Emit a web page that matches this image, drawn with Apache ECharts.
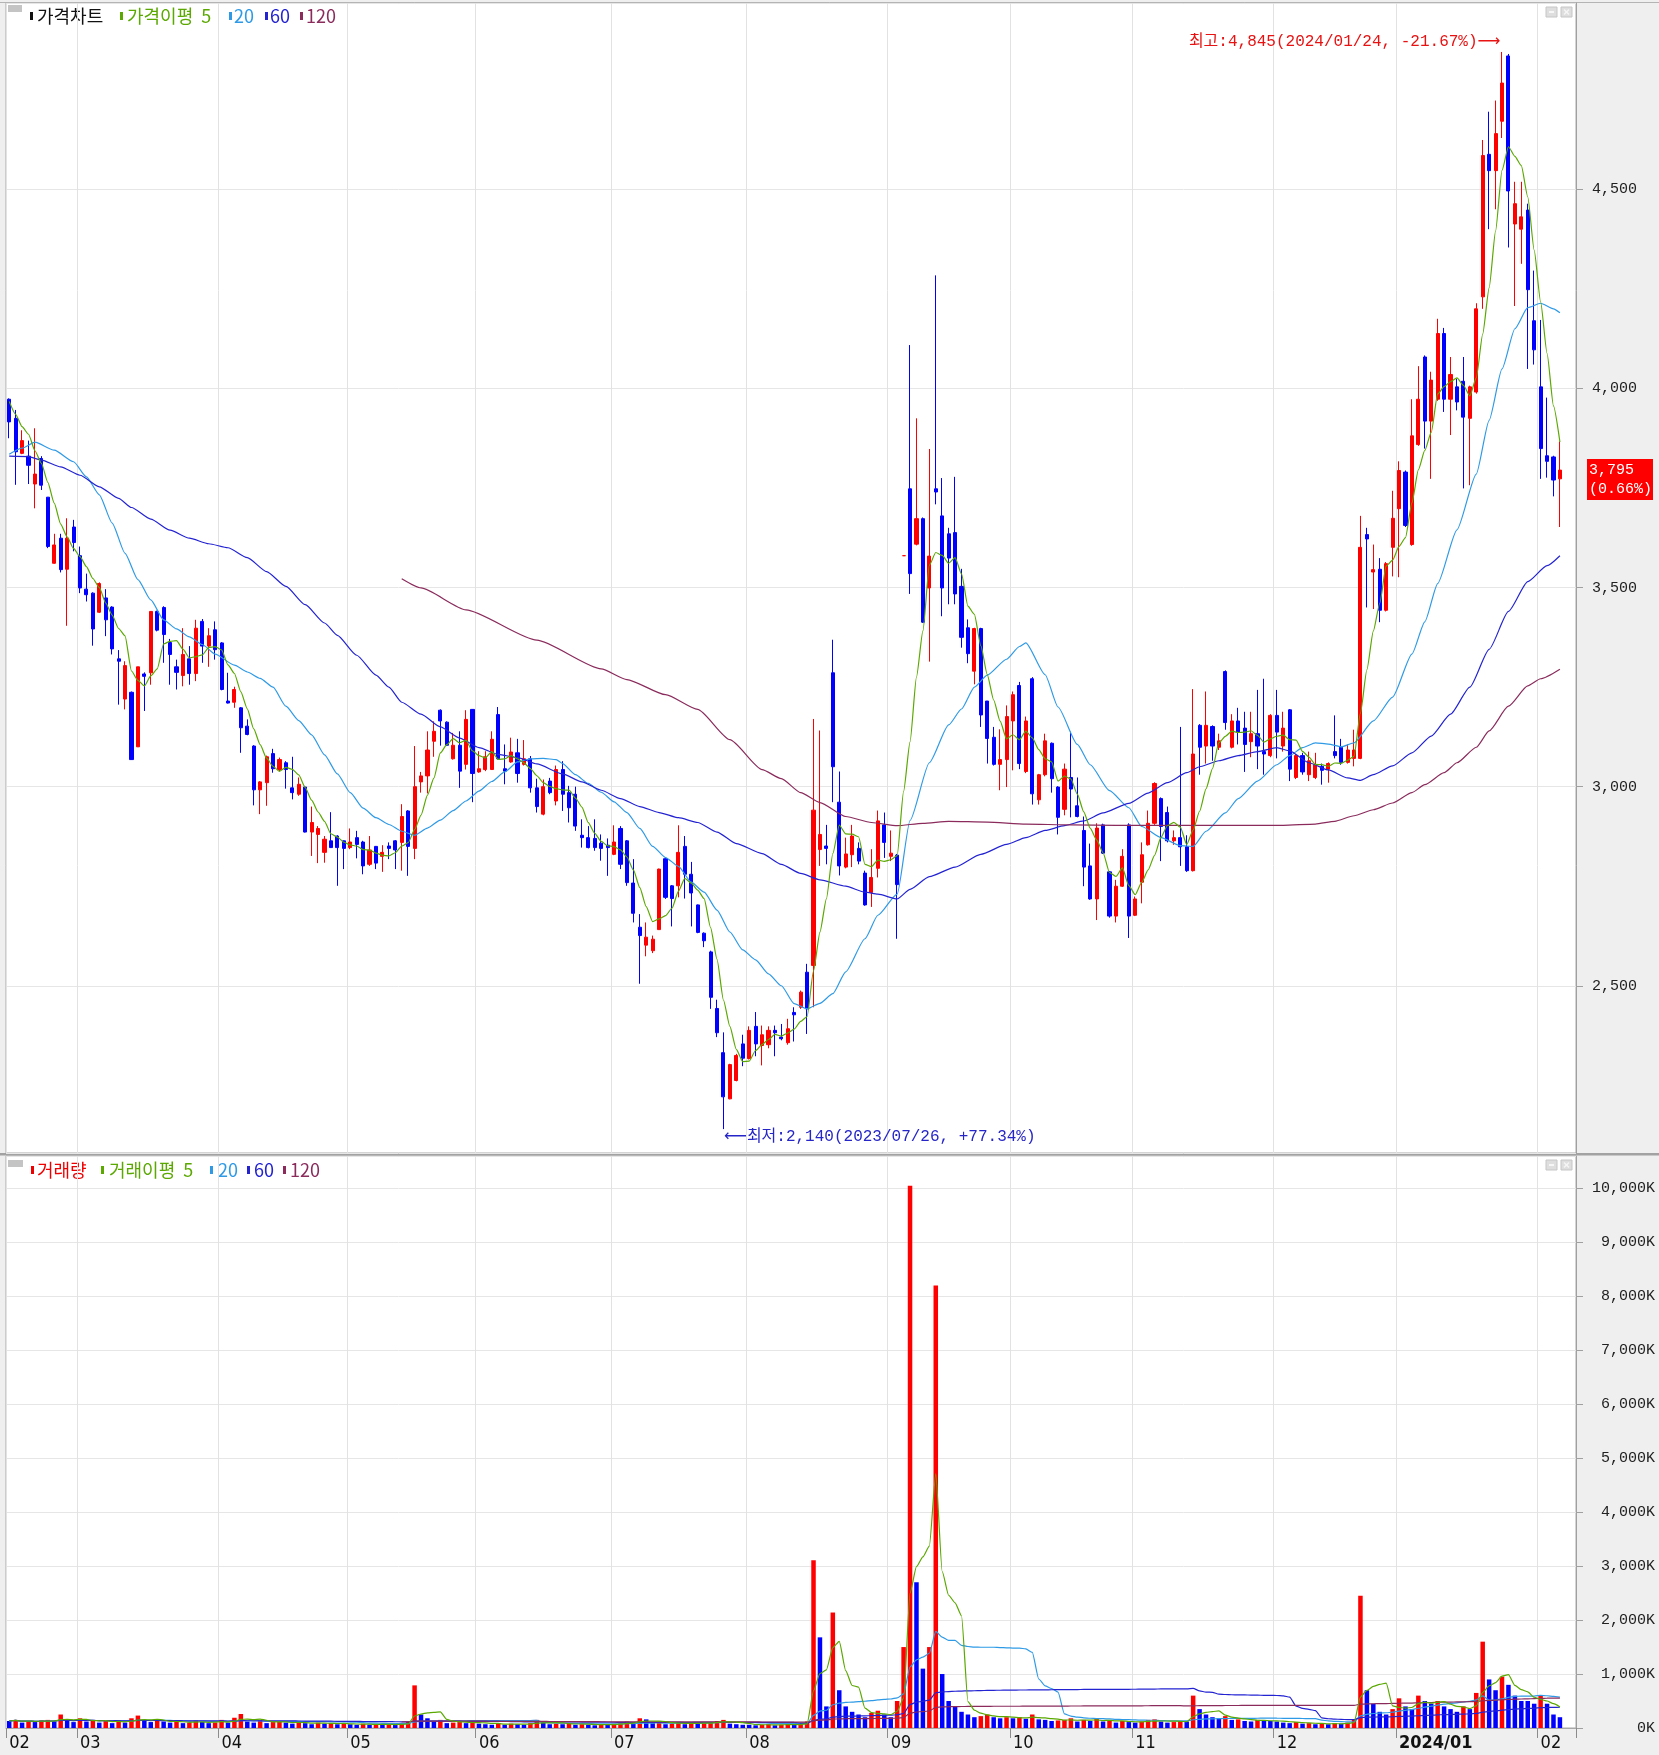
<!DOCTYPE html>
<html lang="ko">
<head>
<meta charset="utf-8">
<title>가격차트</title>
<script src="https://cdn.jsdelivr.net/npm/echarts@6/dist/echarts.min.js"></script>
<style>
html,body{margin:0;padding:0;background:#efefef;}
#chart{width:1659px;height:1755px;}
</style>
</head>
<body>
<div id="chart"></div>
<script>
// ---- trading calendar (month -> trading days) ----
const months = ['2023/02','2023/03','2023/04','2023/05','2023/06','2023/07','2023/08','2023/09','2023/10','2023/11','2023/12','2024/01','2024/02'];
const monthDays = [
  [14,15,16,17,20,21,22,23,24,27,28],
  [2,3,6,7,8,9,10,13,14,15,16,17,20,21,22,23,24,27,28,29,30,31],
  [3,4,5,6,7,10,11,12,13,14,17,18,19,20,21,24,25,26,27,28],
  [2,3,4,8,9,10,11,12,15,16,17,18,19,22,23,24,25,26,30,31],
  [1,2,5,7,8,9,12,13,14,15,16,19,20,21,22,23,26,27,28,29,30],
  [3,4,5,6,7,10,11,12,13,14,17,18,19,20,21,24,25,26,27,28,31],
  [1,2,3,4,7,8,9,10,11,14,16,17,18,21,22,23,24,25,28,29,30,31],
  [1,4,5,6,7,8,11,12,13,14,15,18,19,20,21,22,25,26,27],
  [4,5,6,10,11,12,13,16,17,18,19,20,23,24,25,26,27,30,31],
  [1,2,3,6,7,8,9,10,13,14,15,16,17,20,21,22,23,24,27,28,29,30],
  [1,4,5,6,7,8,11,12,13,14,15,18,19,20,21,22,26,27,28],
  [2,3,4,5,8,9,10,11,12,15,16,17,18,19,22,23,24,25,26,29,30,31],
  [1,2,5,6]
];

// ---- daily prices (won) ----
const opens = [
  3973,3925,3837,3830,3760,3824,3727,3561,3624,3546,3652,
  3580,3496,3486,3438,3474,3451,3321,3220,3237,3100,3283,3286,3440,3450,3362,3301,3279,3321,3284,3415,3353,3394,
  3361,3215,3212,3198,3152,3102,2992,3010,3083,3043,3060,2997,2981,2999,2886,2880,2835,2864,2876,2864,
  2847,2872,2861,2805,2850,2825,2851,2864,2860,2939,2845,3012,3027,3114,3192,3162,3070,3104,3056,3194,
  3037,3043,3043,3181,3045,3062,3085,3056,3070,2997,2931,3014,2964,3043,2985,2981,2878,2872,2870,2858,2853,
  2830,2895,2864,2758,2647,2602,2588,2641,2819,2751,2751,2850,2780,2703,2632,2585,2443,2332,2216,2262,2354,
  2317,2398,2350,2352,2388,2371,2357,2433,2446,2534,2551,2842,2851,3286,2961,2798,2829,2845,2783,2734,2795,2904,
  2825,2828,3580,3748,3609,3673,3499,3748,3680,3635,3638,3503,3399,3290,3397,3215,3124,3056,3068,
  3165,3254,3038,3271,2967,3030,3109,2999,2943,3023,2952,2890,2801,2718,2904,2786,2675,2750,2904,
  2677,2760,2854,2908,2970,2935,2864,2872,2849,2789,3154,3102,3151,3099,3289,3099,3165,3147,3113,3133,3088,3078,
  3179,3102,3193,3023,3078,3030,3023,3051,3044,3088,3099,3061,3071,3071,3633,3539,3546,3443,3601,
  3698,3790,3608,3859,4079,3918,3973,4138,3973,4004,4018,3925,3991,4230,4588,4547,4671,4835,4413,4400,4448,4170,
  4004,3831,3828,3773
];
const highs = [
  3975,3946,3895,3869,3900,3830,3727,3635,3635,3674,3670,
  3603,3535,3488,3513,3496,3453,3343,3315,3239,3301,3287,3440,3442,3453,3371,3319,3398,3353,3419,3421,3398,3415,
  3363,3286,3251,3200,3169,3104,3014,3078,3095,3073,3064,3075,3023,3002,2950,2901,2876,2936,2878,2865,
  2895,2889,2864,2876,2851,2853,2860,2866,2956,2941,3102,3037,3139,3164,3194,3164,3135,3139,3192,3195,
  3089,3089,3139,3200,3106,3123,3120,3117,3077,3020,3018,3022,3053,3064,3002,3000,2918,2901,2918,2880,2870,
  2903,2901,2866,2818,2680,2659,2626,2794,2821,2753,2903,2876,2811,2704,2634,2588,2465,2383,2304,2329,2377,
  2398,2434,2400,2398,2400,2404,2417,2446,2488,2555,3170,3141,2904,3369,3038,2872,2904,2860,2789,2843,2940,2935,
  2890,2831,3580,4109,3925,3676,3848,4284,3775,3650,3778,3547,3420,3399,3399,3215,3150,3144,3204,
  3239,3263,3176,3275,3032,3133,3111,3001,3058,3138,3023,2925,2857,2908,2907,2788,2766,2843,2908,
  2724,2860,2940,3011,2973,2950,2890,3150,2878,3245,3157,3239,3154,3133,3292,3182,3198,3188,3188,3243,3271,3182,
  3243,3188,3195,3082,3085,3088,3085,3058,3061,3179,3120,3106,3143,3680,3650,3608,3574,3564,3743,
  3817,3794,3973,4056,4083,4042,4175,4152,4079,4024,4079,4007,4214,4624,4695,4723,4845,4840,4519,4519,4464,4296,
  4172,3977,3831,3867
];
const lows = [
  3875,3758,3835,3760,3699,3745,3599,3560,3538,3404,3591,
  3486,3465,3354,3436,3378,3332,3206,3194,3067,3100,3190,3256,3390,3311,3256,3244,3252,3256,3265,3311,3301,3319,
  3242,3209,3198,3085,3129,2953,2931,2952,3035,3039,2995,2968,2977,2885,2826,2808,2809,2846,2751,2793,
  2843,2820,2780,2801,2793,2786,2818,2793,2789,2776,2818,2985,2983,3075,3103,3102,3068,2997,3043,2961,
  3035,3039,3042,3068,3006,3060,3010,3053,2985,2935,2928,2981,2953,2939,2910,2889,2847,2845,2839,2814,2776,
  2828,2793,2751,2659,2505,2574,2582,2641,2718,2649,2722,2719,2649,2632,2597,2442,2371,2140,2215,2260,2298,
  2315,2323,2300,2343,2323,2363,2352,2360,2442,2379,2446,2801,2805,2961,2777,2795,2798,2805,2701,2698,2772,2821,
  2813,2618,3580,3484,3606,3411,3314,3709,3428,3458,3458,3349,3310,3257,3150,3058,3053,2991,2999,
  3041,3044,3034,2955,2955,3026,2985,2880,2928,2923,2923,2750,2716,2665,2831,2671,2659,2748,2620,
  2675,2707,2852,2904,2813,2860,2854,2801,2786,2787,3030,3058,3065,3092,3143,3096,3106,3037,3074,3044,3030,3074,
  3071,3088,3014,3019,3030,3014,3019,3005,3010,3071,3055,3058,3051,3069,3450,3446,3413,3440,3528,
  3526,3652,3605,3856,3849,3773,3969,3941,3883,3945,3749,3757,3987,4200,4400,4450,4629,4354,4207,4313,4049,4060,
  3773,3776,3729,3652
];
const closes = [
  3916,3841,3869,3807,3785,3757,3603,3607,3545,3624,3613,
  3499,3482,3396,3510,3419,3346,3315,3304,3068,3301,3277,3440,3393,3382,3332,3287,3332,3284,3398,3353,3379,3344,
  3244,3210,3244,3148,3131,2992,3012,3075,3045,3068,3043,2985,3006,2886,2910,2895,2868,2847,2847,2845,
  2861,2855,2801,2841,2808,2835,2845,2841,2925,2850,3000,3027,3092,3139,3165,3104,3104,3039,3169,3033,
  3045,3075,3119,3070,3039,3087,3033,3070,2997,2950,3000,2985,3043,2981,2947,2901,2872,2847,2847,2845,2847,
  2861,2805,2759,2682,2626,2622,2617,2793,2722,2719,2835,2780,2733,2634,2613,2471,2382,2221,2302,2325,2318,
  2388,2354,2377,2388,2382,2367,2392,2427,2484,2442,2941,2880,2845,3050,2801,2831,2876,2813,2703,2772,2914,2860,
  2833,2754,3580,3535,3673,3413,3579,3740,3499,3574,3484,3375,3334,3397,3180,3121,3056,3068,3176,
  3231,3058,3165,2982,3030,3115,3020,2923,3044,2994,2925,2798,2718,2896,2833,2675,2750,2825,2675,
  2718,2829,2908,3008,2900,2864,2872,2849,2789,3082,3099,3154,3102,3115,3161,3165,3137,3106,3133,3102,3082,3179,
  3137,3147,3044,3078,3037,3065,3055,3041,3058,3078,3061,3092,3092,3601,3622,3545,3443,3560,3674,
  3794,3656,3881,3973,3918,4021,4138,3973,4035,3966,3928,4004,4200,4585,4547,4640,4767,4496,4464,4431,4248,4097,
  3849,3817,3770,3795
];

// ---- daily volume (thousand shares) ----
const volumes = [
  130,150,100,130,110,140,150,120,250,130,110,
  180,120,150,100,130,90,140,100,180,230,130,110,150,120,100,120,90,100,140,110,90,100,
  150,100,190,260,120,100,150,90,110,120,100,80,110,90,70,100,80,90,70,80,
  70,60,80,60,70,60,70,60,80,110,790,250,180,120,150,90,100,110,90,120,
  80,70,60,90,60,80,70,60,90,150,100,70,80,70,90,60,70,60,50,70,60,
  80,90,120,100,180,160,90,100,70,80,110,70,90,80,100,110,130,150,80,70,60,
  60,50,60,70,50,60,70,60,80,120,3110,1680,400,2140,700,400,300,250,200,280,320,250,
  200,500,1500,10050,2700,1100,1500,8200,1000,500,400,300,250,200,220,250,200,180,200,
  180,200,170,250,160,150,130,140,150,180,120,150,130,170,120,140,100,130,110,
  100,120,150,160,120,100,110,130,120,600,350,250,200,180,220,150,160,130,120,150,140,130,
  120,100,90,110,80,90,70,80,70,90,80,100,150,2450,700,450,300,250,350,
  550,400,350,600,500,450,500,400,350,300,400,350,650,1600,900,700,950,800,600,500,500,450,
  600,450,250,200
];

// ---- moving-average lines as plotted ([day index, won]) ----
const ma5Lead = [3967, 3935, 3904, 3885];
const ma20Pts = [
  [0,3835],[2,3850],[4,3865],[7,3845],[10,3816],[12,3778],[14,3733],[16,3662],[18,3586],[20,3520],[22,3469],
  [24,3419],[26,3396],[28,3376],[30,3357],[32,3333],[35,3305],[37,3288],[39,3272],[41,3250],[43,3202],[45,3166],
  [47,3130],[49,3080],[51,3032],[53,2985],[55,2946],[57,2922],[59,2905],[61,2888],[63,2878],[65,2896],[67,2916],
  [69,2940],[71,2964],[73,2989],[75,3013],[77,3037],[79,3062],[81,3070],[83,3071],[85,3068],[86,3058],[88,3030],
  [90,3008],[92,2986],[94,2962],[96,2935],[98,2895],[100,2850],[102,2822],[104,2800],[106,2760],[108,2735],
  [110,2690],[112,2635],[114,2590],[116,2565],[118,2530],[120,2500],[122,2455],[124,2442],[126,2456],[128,2480],
  [130,2535],[133,2618],[135,2677],[138,2730],[140,2915],[143,3060],[146,3155],[148,3195],[150,3250],[152,3280],
  [155,3320],[157,3352],[158,3361],[161,3281],[163,3200],[166,3106],[168,3055],[171,2990],[174,2947],[176,2900],
  [179,2872],[182,2852],[184,2850],[186,2888],[189,2934],[191,2970],[194,3014],[197,3055],[199,3078],[201,3098],
  [203,3110],[205,3107],[207,3100],[209,3110],[212,3165],[215,3225],[218,3333],[220,3414],[222,3510],[225,3645],
  [228,3785],[230,3920],[232,4049],[234,4150],[236,4203],[238,4214],[240,4200],[241,4190]
];
const ma60Pts = [
  [0,3830],[3,3829],[5,3820],[8,3803],[11,3782],[14,3753],[17,3724],[19,3701],[22,3672],[25,3644],[28,3624],
  [31,3610],[34,3600],[37,3575],[40,3540],[43,3503],[46,3457],[49,3411],[51,3380],[54,3330],[57,3280],[59,3250],
  [61,3212],[64,3182],[67,3150],[70,3122],[73,3098],[76,3081],[79,3073],[82,3057],[86,3032],[89,3012],[92,2991],
  [95,2970],[98,2950],[101,2935],[104,2922],[107,2910],[110,2886],[113,2857],[117,2832],[120,2805],[123,2782],
  [126,2766],[130,2750],[133,2735],[135,2730],[138,2718],[140,2742],[143,2774],[147,2798],[151,2830],[155,2855],
  [158,2872],[161,2890],[164,2902],[167,2914],[170,2934],[174,2958],[177,2984],[180,3010],[183,3035],[185,3050],
  [188,3065],[191,3078],[194,3088],[197,3098],[199,3090],[202,3060],[205,3042],[208,3022],[210,3016],[212,3030],
  [215,3052],[218,3085],[221,3127],[224,3182],[227,3250],[230,3345],[233,3440],[236,3515],[239,3555],[241,3580]
];
const ma120Pts = [
  [61,3522],[64,3499],[71,3444],[82,3368],[92,3296],[96,3269],[102,3231],[107,3194],[112,3118],[117,3043],
  [120,3020],[123,2985],[126,2960],[130,2925],[134,2910],[138,2902],[142,2908],[146,2913],[152,2911],[158,2906],
  [165,2904],[172,2903],[180,2903],[190,2903],[198,2903],[203,2906],[206,2913],[209,2927],[212,2942],[215,2959],
  [218,2985],[220,3005],[223,3035],[225,3060],[228,3099],[230,3140],[233,3202],[236,3253],[238,3271],[241,3295]
];

// ---- palette & fonts ----
const UP = '#ff0000', DOWN = '#0000ff';
const C5 = '#5aa800', C20 = '#2e9ae6', C60 = '#2323d2', C120 = '#8a2b5c';
const KR = "'Noto Sans CJK KR','Noto Sans',sans-serif";
const MONO = "'Liberation Mono','DejaVu Sans Mono',monospace";
const MONO_KR = "'Liberation Mono','Noto Sans CJK KR','DejaVu Sans',monospace";
const NARROW = "'Liberation Sans Narrow','Arial Narrow','DejaVu Sans Condensed',sans-serif";

// ---- derived tables ----
const dates = [];
const monthStart = {};
months.forEach((m, k) => monthDays[k].forEach((d, j) => {
  if (j === 0) monthStart[dates.length] = m;
  dates.push(m + '/' + String(d).padStart(2, '0'));
}));
const cats = dates.concat(['', '']);
const isMonthStart = (idx) => monthStart[idx] !== undefined;
const fmt = (v) => Math.round(v).toLocaleString('en-US');

const candles = dates.map((_, i) => [opens[i], closes[i], lows[i], highs[i]]);

function avgWindow(src, n, i) {
  const s = Math.max(0, i - n + 1);
  let sum = 0;
  for (let k = s; k <= i; k++) sum += src[k];
  return +(sum / (i - s + 1)).toFixed(1);
}
const ma5 = closes.map((c, i) => i < ma5Lead.length ? ma5Lead[i] : avgWindow(closes, 5, i));
const vma = (n, from) => volumes.map((v, i) => i < from ? '-' : avgWindow(volumes, n, i));
const volBars = volumes.map((v, i) => ({
  value: v,
  itemStyle: { color: (i > 0 && v > volumes[i - 1]) ? UP : DOWN }
}));

let hiIdx = 0, loIdx = 0;
highs.forEach((h, i) => { if (h > highs[hiIdx]) hiIdx = i; });
lows.forEach((l, i) => { if (l < lows[loIdx]) loIdx = i; });
const last = closes.length - 1;
const lastClose = closes[last];
const pctFromHi = ((lastClose / highs[hiIdx] - 1) * 100).toFixed(2);
const pctFromLo = ((lastClose / lows[loIdx] - 1) * 100).toFixed(2);
const dayChange = ((lastClose / closes[last - 1] - 1) * 100).toFixed(2);

const PRICE_MIN = 2080, PRICE_MAX = 4968;
const VOL_MAX = 10600;

function maLine(name, data, color, x, y, z) {
  return {
    name, type: 'line', xAxisIndex: x, yAxisIndex: y, data, smooth: 0.2, smoothMonotone: 'x',
    showSymbol: false, symbol: 'none', z: z || 3, silent: true,
    lineStyle: { color, width: 1.2 }, connectNulls: false
  };
}

// legend row: [text, color, xText, xBar]
function legendRow(y, items) {
  const out = [];
  items.forEach(([text, color, xText, xBar]) => {
    out.push({ type: 'rect', silent: true, shape: { x: xBar, y: y - 4, width: 3, height: 8 }, style: { fill: color } });
    out.push({ type: 'text', silent: true, style: { x: xText, y, text, fill: color, font: '18px ' + KR, textVerticalAlign: 'middle' } });
  });
  return out;
}
function paneIcons(y) {
  return [
    { type: 'rect', silent: true, shape: { x: 1546, y, width: 11, height: 10 }, style: { fill: '#dedede', stroke: '#c6c6c6', lineWidth: 1 } },
    { type: 'rect', silent: true, shape: { x: 1549, y: y + 4, width: 5, height: 2 }, style: { fill: '#f6f6f6' } },
    { type: 'rect', silent: true, shape: { x: 1561, y, width: 11, height: 10 }, style: { fill: '#dedede', stroke: '#c6c6c6', lineWidth: 1 } },
    { type: 'line', silent: true, shape: { x1: 1564, y1: y + 2.5, x2: 1569, y2: y + 7.5 }, style: { stroke: '#f6f6f6', lineWidth: 1.2 } },
    { type: 'line', silent: true, shape: { x1: 1569, y1: y + 2.5, x2: 1564, y2: y + 7.5 }, style: { stroke: '#f6f6f6', lineWidth: 1.2 } }
  ];
}

const baseGraphics = [
  { type: 'line', silent: true, shape: { x1: 0, y1: 2.5, x2: 1659, y2: 2.5 }, style: { stroke: '#b4b4b4', lineWidth: 1 } },
  { type: 'rect', silent: true, shape: { x: 0, y: 1153, width: 1659, height: 2.5 }, style: { fill: '#a2a2a2' } },
  { type: 'rect', silent: true, shape: { x: 8, y: 5, width: 14, height: 7 }, style: { fill: '#c4c4c4' } },
  { type: 'rect', silent: true, shape: { x: 8, y: 1160, width: 15, height: 7 }, style: { fill: '#c4c4c4' } },
  ...legendRow(16, [
    ['가격차트', '#111111', 37, 30],
    ['가격이평  5', C5, 127, 120],
    ['20', C20, 234, 229],
    ['60', C60, 270, 265],
    ['120', C120, 306, 300]
  ]),
  ...legendRow(1170, [
    ['거래량', '#ee0000', 37, 31],
    ['거래이평  5', C5, 109, 101],
    ['20', C20, 218, 210],
    ['60', C60, 254, 247],
    ['120', C120, 290, 283]
  ]),
  ...paneIcons(7),
  ...paneIcons(1160)
];

const option = {
  backgroundColor: '#efefef',
  animation: false,
  grid: [
    { left: 6, right: 83, top: 3, height: 1150, show: true, backgroundColor: '#ffffff', borderColor: '#a8a8a8', borderWidth: 1 },
    { left: 6, right: 83, top: 1156, height: 572, show: true, backgroundColor: '#ffffff', borderColor: '#a8a8a8', borderWidth: 1 }
  ],
  xAxis: [
    {
      type: 'category', gridIndex: 0, data: cats, boundaryGap: true,
      axisLine: { show: false }, axisTick: { show: false }, axisLabel: { show: false },
      splitLine: { show: true, interval: isMonthStart, lineStyle: { color: '#e2e2e2', width: 1 } }
    },
    {
      type: 'category', gridIndex: 1, data: cats, boundaryGap: true,
      axisLine: { show: true, lineStyle: { color: '#a8a8a8' } },
      axisTick: { show: true, interval: isMonthStart, length: 10, lineStyle: { color: '#8c8c8c' } },
      axisLabel: {
        show: true, interval: isMonthStart, align: 'left', margin: 6,
        fontFamily: NARROW, fontSize: 18, color: '#111',
        formatter: (value, idx) => {
          const m = monthStart[idx];
          if (!m) return '';
          return m === '2024/01' ? '{b|2024/01}' : m.slice(5);
        },
        rich: { b: { fontFamily: NARROW, fontSize: 18, fontWeight: 'bold', color: '#111' } }
      },
      splitLine: { show: true, interval: isMonthStart, lineStyle: { color: '#e2e2e2', width: 1 } }
    }
  ],
  yAxis: [
    {
      type: 'value', gridIndex: 0, position: 'right', min: PRICE_MIN, max: PRICE_MAX, splitNumber: 6,
      axisLine: { show: true, lineStyle: { color: '#a0a0a0' } },
      axisTick: { show: true, length: 7, lineStyle: { color: '#a0a0a0' } },
      axisLabel: { show: true, margin: 16, showMinLabel: false, showMaxLabel: false, formatter: fmt, fontFamily: MONO, fontSize: 15, color: '#222' },
      splitLine: { show: true, lineStyle: { color: '#e6e6e6' } }
    },
    {
      type: 'value', gridIndex: 1, position: 'right', min: 0, max: VOL_MAX, interval: 1000,
      axisLine: { show: true, lineStyle: { color: '#a0a0a0' } },
      axisTick: { show: true, length: 7, lineStyle: { color: '#a0a0a0' } },
      axisLabel: { show: true, margin: 79, align: 'right', showMaxLabel: false, formatter: (v) => fmt(v) + 'K', fontFamily: MONO, fontSize: 15, color: '#222' },
      splitLine: { show: true, lineStyle: { color: '#e6e6e6' } }
    }
  ],
  series: [
    {
      name: '가격차트', type: 'candlestick', xAxisIndex: 0, yAxisIndex: 0, data: candles, barWidth: 3.6, z: 2,
      itemStyle: { color: UP, color0: DOWN, borderColor: UP, borderColor0: DOWN, borderWidth: 1 },
      markPoint: {
        symbol: 'circle', symbolSize: 1, silent: true, animation: false,
        itemStyle: { color: 'rgba(0,0,0,0)' },
        data: [
          {
            coord: [dates[hiIdx], highs[hiIdx]],
            label: {
              show: true, position: 'left', distance: 1, offset: [0, -10],
              formatter: '최고:' + fmt(highs[hiIdx]) + '(' + dates[hiIdx] + ', ' + pctFromHi + '%)⟶',
              color: '#e81212', fontFamily: MONO_KR, fontSize: 16
            }
          },
          {
            coord: [dates[loIdx], lows[loIdx]],
            label: {
              show: true, position: 'right', distance: 0, offset: [0, 8],
              formatter: '⟵최저:' + fmt(lows[loIdx]) + '(' + dates[loIdx] + ', +' + pctFromLo + '%)',
              color: '#2626c8', fontFamily: MONO_KR, fontSize: 16
            }
          }
        ]
      }
    },
    maLine('가격이평 5', ma5, C5, 0, 0, 4),
    maLine('가격이평 20', ma20Pts, C20, 0, 0, 3),
    maLine('가격이평 60', ma60Pts, C60, 0, 0, 3),
    maLine('가격이평 120', ma120Pts, C120, 0, 0, 3),
    { name: '거래량', type: 'bar', xAxisIndex: 1, yAxisIndex: 1, data: volBars, barWidth: 4.5, z: 2, silent: true },
    maLine('거래이평 5', vma(5, 0), C5, 1, 1, 4),
    maLine('거래이평 20', vma(20, 0), C20, 1, 1, 3),
    maLine('거래이평 60', vma(60, 0), C60, 1, 1, 3),
    maLine('거래이평 120', vma(120, 61), C120, 1, 1, 3)
  ],
  graphic: baseGraphics
};

const chart = echarts.init(document.getElementById('chart'), null, { renderer: 'canvas' });
chart.setOption(option);

// current-price tag on the price axis
const tagY = chart.convertToPixel({ yAxisIndex: 0 }, lastClose);
chart.setOption({
  graphic: baseGraphics.concat([
    { type: 'rect', silent: true, shape: { x: 1587, y: tagY - 11, width: 66, height: 41 }, style: { fill: '#ff0000' } },
    { type: 'text', silent: true, style: { x: 1589, y: tagY - 10, text: fmt(lastClose) + '\n(' + dayChange + '%)', fill: '#ffffff', font: '15px ' + MONO, lineHeight: 19 } }
  ])
});
</script>
</body>
</html>
